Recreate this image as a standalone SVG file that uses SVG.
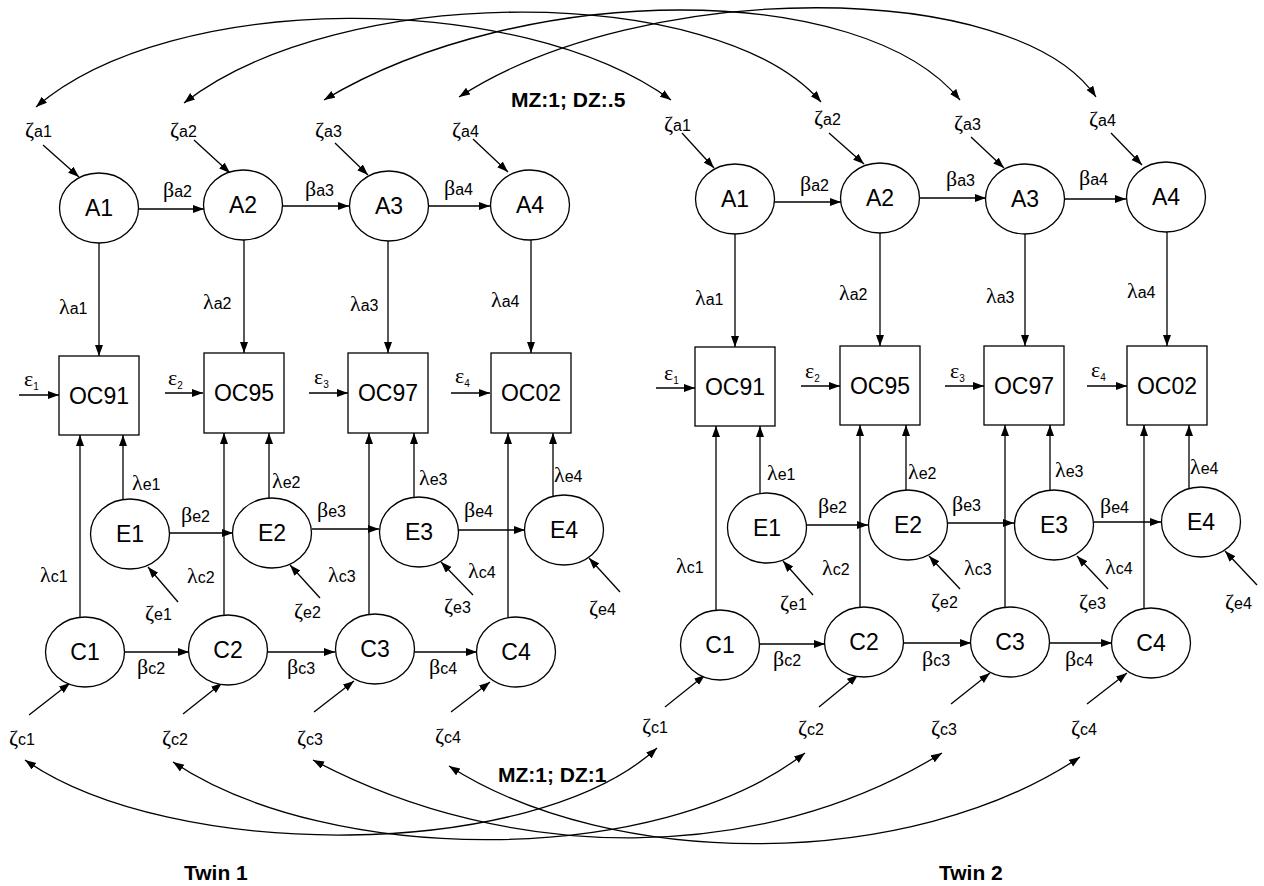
<svg xmlns="http://www.w3.org/2000/svg" width="1264" height="886" viewBox="0 0 1264 886">
<style>
.ln{stroke:#000;stroke-width:1.3;fill:none}
.ar{marker-end:url(#ah)}
.dbl{marker-start:url(#ah);marker-end:url(#ah)}
.nd{fill:#fff;stroke:#000;stroke-width:1.3}
.nt{font-family:"Liberation Sans",Arial,sans-serif;font-size:23px;text-anchor:middle;fill:#000}
.lb{font-family:"Liberation Sans",Arial,sans-serif;font-size:16px;fill:#000}
.g{font-family:"Liberation Serif","DejaVu Serif",serif;font-size:22px}
.sb{font-size:10px}
.b{font-family:"Liberation Sans",Arial,sans-serif;font-size:21px;font-weight:bold;fill:#000}
</style>
<defs>
<marker id="ah" markerUnits="userSpaceOnUse" markerWidth="12" markerHeight="10" refX="11" refY="4" orient="auto-start-reverse">
<path d="M0,0 L11,4 L0,8 z" fill="#000"/>
</marker>
</defs>
<rect width="1264" height="886" fill="#fff"/>

<g id="connectors">
<!-- covariance arcs top -->
<path class="ln dbl" d="M36,107 C171,-10 520,-10 671,100"/>
<path class="ln dbl" d="M184,103 C339,-18 717,-18 821,102"/>
<path class="ln dbl" d="M324,100 C524,-20 863,-20 960,100"/>
<path class="ln dbl" d="M459,97 C642,-22 1016,-22 1096,97"/>
<!-- covariance arcs bottom -->
<path class="ln dbl" d="M25,760 C171,862 533,862 657,748"/>
<path class="ln dbl" d="M173,762 C330,867 659,867 805,753"/>
<path class="ln dbl" d="M313,760 C511,865 761,865 942,753"/>
<path class="ln dbl" d="M449,766 C613,871 910,871 1080,757"/>

<!-- Twin 1 -->
<line class="ln ar" x1="43" y1="145" x2="79" y2="177"/>
<line class="ln ar" x1="194" y1="140" x2="230" y2="173"/>
<line class="ln ar" x1="335" y1="143" x2="368" y2="175"/>
<line class="ln ar" x1="473" y1="139" x2="508" y2="172"/>
<line class="ln ar" x1="138" y1="209" x2="204" y2="209"/>
<line class="ln ar" x1="283" y1="206" x2="349" y2="206"/>
<line class="ln ar" x1="428" y1="206" x2="490" y2="206"/>
<line class="ln ar" x1="99" y1="243" x2="99" y2="356"/>
<line class="ln ar" x1="244" y1="240" x2="244" y2="353"/>
<line class="ln ar" x1="388" y1="241" x2="388" y2="353"/>
<line class="ln ar" x1="531" y1="240" x2="531" y2="353"/>
<line class="ln ar" x1="19" y1="395" x2="59" y2="395"/>
<line class="ln ar" x1="165" y1="393" x2="203" y2="393"/>
<line class="ln ar" x1="309" y1="393" x2="348" y2="393"/>
<line class="ln ar" x1="451" y1="393" x2="490" y2="393"/>
<line class="ln ar" x1="80" y1="618" x2="80" y2="435"/>
<line class="ln ar" x1="224" y1="616" x2="224" y2="433"/>
<line class="ln ar" x1="369" y1="615" x2="369" y2="433"/>
<line class="ln ar" x1="508" y1="618" x2="508" y2="433"/>
<line class="ln ar" x1="123" y1="500" x2="123" y2="435"/>
<line class="ln ar" x1="269" y1="499" x2="269" y2="433"/>
<line class="ln ar" x1="414" y1="498" x2="414" y2="433"/>
<line class="ln ar" x1="553" y1="497" x2="553" y2="433"/>
<line class="ln ar" x1="170" y1="533" x2="233" y2="533"/>
<line class="ln ar" x1="312" y1="529" x2="379" y2="529"/>
<line class="ln ar" x1="458" y1="530" x2="525" y2="530"/>
<line class="ln ar" x1="178" y1="602" x2="148" y2="567"/>
<line class="ln ar" x1="320" y1="598" x2="290" y2="565"/>
<line class="ln ar" x1="473" y1="595" x2="441" y2="562"/>
<line class="ln ar" x1="620" y1="592" x2="589" y2="558"/>
<line class="ln ar" x1="124" y1="652" x2="189" y2="652"/>
<line class="ln ar" x1="267" y1="652" x2="335" y2="652"/>
<line class="ln ar" x1="414" y1="652" x2="477" y2="652"/>
<line class="ln ar" x1="29" y1="715" x2="70" y2="683"/>
<line class="ln ar" x1="183" y1="714" x2="222" y2="683"/>
<line class="ln ar" x1="314" y1="712" x2="354" y2="681"/>
<line class="ln ar" x1="451" y1="712" x2="490" y2="682"/>

<!-- Twin 2 -->
<line class="ln ar" x1="682" y1="133" x2="714" y2="168"/>
<line class="ln ar" x1="829" y1="133" x2="864" y2="164"/>
<line class="ln ar" x1="971" y1="137" x2="1004" y2="168"/>
<line class="ln ar" x1="1111" y1="133" x2="1142" y2="165"/>
<line class="ln ar" x1="774" y1="202" x2="841" y2="202"/>
<line class="ln ar" x1="920" y1="198" x2="986" y2="198"/>
<line class="ln ar" x1="1064" y1="199" x2="1126" y2="199"/>
<line class="ln ar" x1="735" y1="234" x2="735" y2="347"/>
<line class="ln ar" x1="880" y1="233" x2="880" y2="346"/>
<line class="ln ar" x1="1025" y1="234" x2="1025" y2="346"/>
<line class="ln ar" x1="1167" y1="232" x2="1167" y2="346"/>
<line class="ln ar" x1="656" y1="388" x2="695" y2="388"/>
<line class="ln ar" x1="801" y1="386" x2="840" y2="386"/>
<line class="ln ar" x1="945" y1="386" x2="984" y2="386"/>
<line class="ln ar" x1="1087" y1="386" x2="1127" y2="386"/>
<line class="ln ar" x1="716" y1="611" x2="716" y2="426"/>
<line class="ln ar" x1="860" y1="608" x2="860" y2="425"/>
<line class="ln ar" x1="1005" y1="608" x2="1005" y2="425"/>
<line class="ln ar" x1="1144" y1="609" x2="1144" y2="425"/>
<line class="ln ar" x1="760" y1="494" x2="760" y2="426"/>
<line class="ln ar" x1="906" y1="491" x2="906" y2="425"/>
<line class="ln ar" x1="1050" y1="491" x2="1050" y2="425"/>
<line class="ln ar" x1="1189" y1="489" x2="1189" y2="425"/>
<line class="ln ar" x1="806" y1="525" x2="868" y2="525"/>
<line class="ln ar" x1="948" y1="523" x2="1014" y2="523"/>
<line class="ln ar" x1="1094" y1="522" x2="1161" y2="522"/>
<line class="ln ar" x1="813" y1="595" x2="783" y2="561"/>
<line class="ln ar" x1="960" y1="589" x2="929" y2="556"/>
<line class="ln ar" x1="1108" y1="589" x2="1077" y2="556"/>
<line class="ln ar" x1="1257" y1="585" x2="1225" y2="551"/>
<line class="ln ar" x1="760" y1="644" x2="825" y2="644"/>
<line class="ln ar" x1="904" y1="643" x2="971" y2="643"/>
<line class="ln ar" x1="1050" y1="643" x2="1112" y2="643"/>
<line class="ln ar" x1="665" y1="707" x2="705" y2="675"/>
<line class="ln ar" x1="819" y1="707" x2="858" y2="675"/>
<line class="ln ar" x1="951" y1="704" x2="990" y2="673"/>
<line class="ln ar" x1="1087" y1="704" x2="1127" y2="673"/>
</g>

<!-- Twin 1 nodes -->
<g id="t1-A1"><ellipse class="nd" cx="99" cy="208" rx="39.5" ry="35"/><text class="nt" x="99" y="216">A1</text></g>
<g id="t1-A2"><ellipse class="nd" cx="243" cy="205" rx="39.5" ry="35"/><text class="nt" x="243" y="213">A2</text></g>
<g id="t1-A3"><ellipse class="nd" cx="389" cy="206" rx="39.5" ry="35"/><text class="nt" x="389" y="214">A3</text></g>
<g id="t1-A4"><ellipse class="nd" cx="530" cy="205" rx="39.5" ry="35"/><text class="nt" x="530" y="213">A4</text></g>
<g id="t1-OC91"><rect class="nd" x="59" y="356" width="80" height="79"/><text class="nt" x="99" y="404">OC91</text></g>
<g id="t1-OC95"><rect class="nd" x="204" y="353" width="80" height="80"/><text class="nt" x="244" y="401">OC95</text></g>
<g id="t1-OC97"><rect class="nd" x="348" y="353" width="80" height="80"/><text class="nt" x="388" y="401">OC97</text></g>
<g id="t1-OC02"><rect class="nd" x="491" y="353" width="80" height="80"/><text class="nt" x="531" y="401">OC02</text></g>
<g id="t1-E1"><ellipse class="nd" cx="130" cy="534" rx="39.5" ry="35"/><text class="nt" x="130" y="542">E1</text></g>
<g id="t1-E2"><ellipse class="nd" cx="272" cy="533" rx="39.5" ry="35"/><text class="nt" x="272" y="541">E2</text></g>
<g id="t1-E3"><ellipse class="nd" cx="419" cy="532" rx="39.5" ry="35"/><text class="nt" x="419" y="540">E3</text></g>
<g id="t1-E4"><ellipse class="nd" cx="564" cy="530" rx="39.5" ry="35"/><text class="nt" x="564" y="538">E4</text></g>
<g id="t1-C1"><ellipse class="nd" cx="85" cy="652" rx="39.5" ry="35"/><text class="nt" x="85" y="660">C1</text></g>
<g id="t1-C2"><ellipse class="nd" cx="228" cy="650" rx="39.5" ry="35"/><text class="nt" x="228" y="658">C2</text></g>
<g id="t1-C3"><ellipse class="nd" cx="375" cy="649" rx="39.5" ry="35"/><text class="nt" x="375" y="657">C3</text></g>
<g id="t1-C4"><ellipse class="nd" cx="516" cy="652" rx="39.5" ry="35"/><text class="nt" x="516" y="660">C4</text></g>

<!-- Twin 2 nodes -->
<g id="t2-A1"><ellipse class="nd" cx="735" cy="199" rx="39.5" ry="35"/><text class="nt" x="735" y="207">A1</text></g>
<g id="t2-A2"><ellipse class="nd" cx="880" cy="198" rx="39.5" ry="35"/><text class="nt" x="880" y="206">A2</text></g>
<g id="t2-A3"><ellipse class="nd" cx="1025" cy="199" rx="39.5" ry="35"/><text class="nt" x="1025" y="207">A3</text></g>
<g id="t2-A4"><ellipse class="nd" cx="1166" cy="197" rx="39.5" ry="35"/><text class="nt" x="1166" y="205">A4</text></g>
<g id="t2-OC91"><rect class="nd" x="695" y="347" width="80" height="79"/><text class="nt" x="735" y="395">OC91</text></g>
<g id="t2-OC95"><rect class="nd" x="840" y="346" width="80" height="79"/><text class="nt" x="880" y="394">OC95</text></g>
<g id="t2-OC97"><rect class="nd" x="984" y="346" width="80" height="79"/><text class="nt" x="1024" y="394">OC97</text></g>
<g id="t2-OC02"><rect class="nd" x="1127" y="346" width="80" height="79"/><text class="nt" x="1167" y="394">OC02</text></g>
<g id="t2-E1"><ellipse class="nd" cx="767" cy="528" rx="39.5" ry="35"/><text class="nt" x="767" y="536">E1</text></g>
<g id="t2-E2"><ellipse class="nd" cx="908" cy="525" rx="39.5" ry="35"/><text class="nt" x="908" y="533">E2</text></g>
<g id="t2-E3"><ellipse class="nd" cx="1054" cy="525" rx="39.5" ry="35"/><text class="nt" x="1054" y="533">E3</text></g>
<g id="t2-E4"><ellipse class="nd" cx="1201" cy="522" rx="39.5" ry="35"/><text class="nt" x="1201" y="530">E4</text></g>
<g id="t2-C1"><ellipse class="nd" cx="720" cy="645" rx="39.5" ry="35"/><text class="nt" x="720" y="653">C1</text></g>
<g id="t2-C2"><ellipse class="nd" cx="864" cy="642" rx="39.5" ry="35"/><text class="nt" x="864" y="650">C2</text></g>
<g id="t2-C3"><ellipse class="nd" cx="1010" cy="642" rx="39.5" ry="35"/><text class="nt" x="1010" y="650">C3</text></g>
<g id="t2-C4"><ellipse class="nd" cx="1151" cy="643" rx="39.5" ry="35"/><text class="nt" x="1151" y="651">C4</text></g>

<g id="labels" class="lb">
<!-- Twin 1 -->
<text x="25" y="137"><tspan class="g">ζ</tspan>a1</text>
<text x="170" y="137"><tspan class="g">ζ</tspan>a2</text>
<text x="315" y="137"><tspan class="g">ζ</tspan>a3</text>
<text x="452" y="137"><tspan class="g">ζ</tspan>a4</text>
<text x="163" y="197"><tspan class="g">β</tspan>a2</text>
<text x="305" y="196"><tspan class="g">β</tspan>a3</text>
<text x="444" y="195"><tspan class="g">β</tspan>a4</text>
<text x="59" y="314"><tspan class="g">λ</tspan>a1</text>
<text x="203" y="309"><tspan class="g">λ</tspan>a2</text>
<text x="350" y="311"><tspan class="g">λ</tspan>a3</text>
<text x="491" y="307"><tspan class="g">λ</tspan>a4</text>
<text x="24" y="386"><tspan class="g">ε</tspan><tspan class="sb" dy="4">1</tspan></text>
<text x="168" y="385"><tspan class="g">ε</tspan><tspan class="sb" dy="4">2</tspan></text>
<text x="314" y="384"><tspan class="g">ε</tspan><tspan class="sb" dy="4">3</tspan></text>
<text x="455" y="383"><tspan class="g">ε</tspan><tspan class="sb" dy="4">4</tspan></text>
<text x="132" y="490"><tspan class="g">λ</tspan>e1</text>
<text x="272" y="488"><tspan class="g">λ</tspan>e2</text>
<text x="419" y="485"><tspan class="g">λ</tspan>e3</text>
<text x="554" y="482"><tspan class="g">λ</tspan>e4</text>
<text x="181" y="522"><tspan class="g">β</tspan>e2</text>
<text x="317" y="517"><tspan class="g">β</tspan>e3</text>
<text x="464" y="517"><tspan class="g">β</tspan>e4</text>
<text x="40" y="582"><tspan class="g">λ</tspan>c1</text>
<text x="187" y="583"><tspan class="g">λ</tspan>c2</text>
<text x="328" y="582"><tspan class="g">λ</tspan>c3</text>
<text x="468" y="578"><tspan class="g">λ</tspan>c4</text>
<text x="145" y="620"><tspan class="g">ζ</tspan>e1</text>
<text x="294" y="618"><tspan class="g">ζ</tspan>e2</text>
<text x="444" y="613"><tspan class="g">ζ</tspan>e3</text>
<text x="589" y="615"><tspan class="g">ζ</tspan>e4</text>
<text x="137" y="674"><tspan class="g">β</tspan>c2</text>
<text x="287" y="674"><tspan class="g">β</tspan>c3</text>
<text x="429" y="674"><tspan class="g">β</tspan>c4</text>
<text x="9" y="745"><tspan class="g">ζ</tspan>c1</text>
<text x="162" y="745"><tspan class="g">ζ</tspan>c2</text>
<text x="297" y="745"><tspan class="g">ζ</tspan>c3</text>
<text x="435" y="743"><tspan class="g">ζ</tspan>c4</text>
<!-- Twin 2 -->
<text x="664" y="131"><tspan class="g">ζ</tspan>a1</text>
<text x="814" y="125"><tspan class="g">ζ</tspan>a2</text>
<text x="954" y="130"><tspan class="g">ζ</tspan>a3</text>
<text x="1089" y="126"><tspan class="g">ζ</tspan>a4</text>
<text x="800" y="191"><tspan class="g">β</tspan>a2</text>
<text x="946" y="186"><tspan class="g">β</tspan>a3</text>
<text x="1079" y="185"><tspan class="g">β</tspan>a4</text>
<text x="695" y="305"><tspan class="g">λ</tspan>a1</text>
<text x="839" y="300"><tspan class="g">λ</tspan>a2</text>
<text x="986" y="303"><tspan class="g">λ</tspan>a3</text>
<text x="1127" y="298"><tspan class="g">λ</tspan>a4</text>
<text x="664" y="380"><tspan class="g">ε</tspan><tspan class="sb" dy="4">1</tspan></text>
<text x="805" y="378"><tspan class="g">ε</tspan><tspan class="sb" dy="4">2</tspan></text>
<text x="950" y="378"><tspan class="g">ε</tspan><tspan class="sb" dy="4">3</tspan></text>
<text x="1091" y="377"><tspan class="g">ε</tspan><tspan class="sb" dy="4">4</tspan></text>
<text x="767" y="480"><tspan class="g">λ</tspan>e1</text>
<text x="908" y="479"><tspan class="g">λ</tspan>e2</text>
<text x="1055" y="477"><tspan class="g">λ</tspan>e3</text>
<text x="1190" y="474"><tspan class="g">λ</tspan>e4</text>
<text x="818" y="513"><tspan class="g">β</tspan>e2</text>
<text x="952" y="511"><tspan class="g">β</tspan>e3</text>
<text x="1100" y="513"><tspan class="g">β</tspan>e4</text>
<text x="676" y="573"><tspan class="g">λ</tspan>c1</text>
<text x="822" y="575"><tspan class="g">λ</tspan>c2</text>
<text x="964" y="575"><tspan class="g">λ</tspan>c3</text>
<text x="1105" y="574"><tspan class="g">λ</tspan>c4</text>
<text x="780" y="610"><tspan class="g">ζ</tspan>e1</text>
<text x="931" y="608"><tspan class="g">ζ</tspan>e2</text>
<text x="1079" y="609"><tspan class="g">ζ</tspan>e3</text>
<text x="1225" y="609"><tspan class="g">ζ</tspan>e4</text>
<text x="773" y="666"><tspan class="g">β</tspan>c2</text>
<text x="922" y="666"><tspan class="g">β</tspan>c3</text>
<text x="1065" y="666"><tspan class="g">β</tspan>c4</text>
<text x="642" y="733"><tspan class="g">ζ</tspan>c1</text>
<text x="798" y="735"><tspan class="g">ζ</tspan>c2</text>
<text x="931" y="735"><tspan class="g">ζ</tspan>c3</text>
<text x="1071" y="735"><tspan class="g">ζ</tspan>c4</text>
</g>

<g id="annotations">
<text class="b" x="511" y="107">MZ:1; DZ:.5</text>
<text class="b" x="498" y="782">MZ:1; DZ:1</text>
<text class="b" x="184" y="880">Twin 1</text>
<text class="b" x="939" y="880">Twin 2</text>
</g>
</svg>
